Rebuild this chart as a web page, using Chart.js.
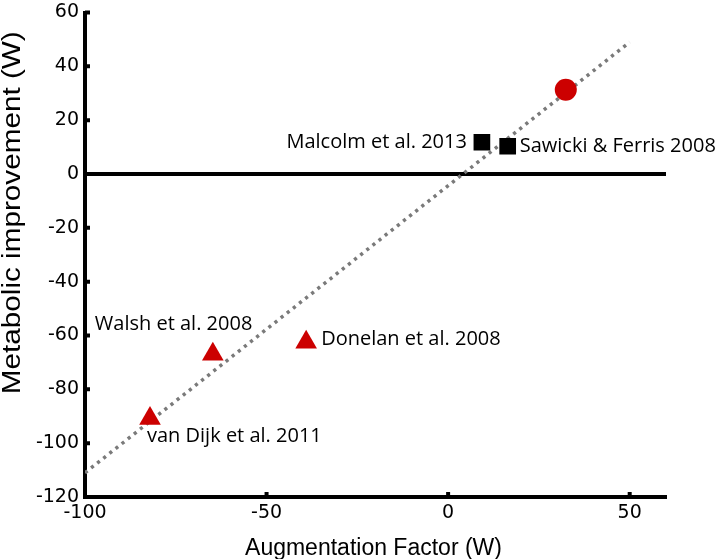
<!DOCTYPE html>
<html>
<head>
<meta charset="utf-8">
<script src="https://cdn.jsdelivr.net/npm/chart.js@4/dist/chart.umd.min.js"></script>
<style>
html,body{margin:0;padding:0;background:#fff;}
#wrap{width:721px;height:559px;position:relative;}
</style>
</head>
<body>
<div id="wrap"><canvas id="c" width="721" height="559"></canvas></div>
<script>
// ---- data ----
const xTicks = [-100, -50, 0, 50];
const yTicks = [-120, -100, -80, -60, -40, -20, 0, 20, 40, 60];
const xTitle = "Augmentation Factor (W)";
const yTitle = "Metabolic improvement (W)";

const circleX = [32.4];
const circleY = [31.3];

const squareNames = ["Malcolm et al. 2013", "Sawicki & Ferris 2008"];
const squareX = [9.3, 16.4];
const squareY = [11.8, 10.3];

const triangleNames = ["Walsh et al. 2008", "Donelan et al. 2008", "van Dijk et al. 2011"];
const triangleX = [-64.8, -39.1, -82.1];
const triangleY = [-67.0, -62.5, -90.8];

const fitX = [-100, 50];
const fitY = [-111, 49];

const zeroX = [-100, 60];
const zeroY = [0, 0];

// label placement (pixel offsets from the marker, and alignment)
const labelOffsets = {
  "Malcolm et al. 2013": {dx: -15, dy: 0, align: "right"},
  "Sawicki & Ferris 2008": {dx: 12, dy: 0, align: "left"},
  "Walsh et al. 2008": {dx: -118, dy: -30, align: "left"},
  "Donelan et al. 2008": {dx: 15, dy: -3, align: "left"},
  "van Dijk et al. 2011": {dx: -3, dy: 18, align: "left"}
};

const RED = "#CC0000";
const pts = (xs, ys) => xs.map((x, i) => ({x: x, y: ys[i]}));

const xTickFont = {family: "'DejaVu Sans', sans-serif", size: 19};
const yTickFont = {family: "'DejaVu Sans', sans-serif", size: 19, lineHeight: 0.6};

const customDraw = {
  id: "customDraw",
  afterDatasetsDraw(chart) {
    const ctx = chart.ctx;
    const xs = chart.scales.x, ys = chart.scales.y;
    const ca = chart.chartArea;
    ctx.save();
    // inward tick marks
    ctx.strokeStyle = "#000";
    ctx.lineWidth = 4;
    ctx.beginPath();
    xTicks.forEach(v => {
      const px = xs.getPixelForValue(v);
      ctx.moveTo(px, ca.bottom);
      ctx.lineTo(px, ca.bottom - 5);
    });
    yTicks.forEach(v => {
      const py = ys.getPixelForValue(v);
      ctx.moveTo(ca.left, py);
      ctx.lineTo(ca.left + 5, py);
    });
    ctx.stroke();

    // annotations
    ctx.fillStyle = "#000";
    ctx.font = "20px 'Open Sans', sans-serif";
    ctx.textBaseline = "middle";
    const addLabels = (names, X, Y) => {
      names.forEach((n, i) => {
        const o = labelOffsets[n];
        ctx.textAlign = o.align;
        ctx.fillText(n, xs.getPixelForValue(X[i]) + o.dx, ys.getPixelForValue(Y[i]) + o.dy);
      });
    };
    addLabels(squareNames, squareX, squareY);
    addLabels(triangleNames, triangleX, triangleY);

    // axis titles
    ctx.font = "23px 'Liberation Sans', Arial, sans-serif";
    ctx.textAlign = "center";
    ctx.textBaseline = "alphabetic";
    ctx.fillText(xTitle, (ca.left + ca.right) / 2 - 2, ca.bottom + 58);

    ctx.font = "25px 'Liberation Sans', Arial, sans-serif";
    const w = ctx.measureText(yTitle).width;
    ctx.translate(ca.left - 72, (ca.top + ca.bottom) / 2 - 42);
    ctx.rotate(-Math.PI / 2);
    ctx.scale(363 / w, 1);
    ctx.textBaseline = "middle";
    ctx.fillText(yTitle, 0, 0);
    ctx.restore();
  }
};

new Chart(document.getElementById("c"), {
  type: "scatter",
  data: {
    datasets: [
      {
        label: "zero",
        data: pts(zeroX, zeroY),
        showLine: true,
        borderColor: "#000",
        borderWidth: 4,
        pointRadius: 0,
        order: 5
      },
      {
        label: "fit",
        data: pts(fitX, fitY),
        showLine: true,
        borderColor: "#7a7a7a",
        borderWidth: 3.5,
        borderDash: [3.2, 4.6],
        pointRadius: 0,
        order: 4
      },
      {
        label: "squares",
        data: pts(squareX, squareY),
        pointStyle: "rect",
        pointRadius: 11.8,
        backgroundColor: "#000",
        borderColor: "#000",
        borderWidth: 0,
        order: 3
      },
      {
        label: "triangles",
        data: pts(triangleX, triangleY),
        pointStyle: "triangle",
        pointRadius: 12.5,
        backgroundColor: RED,
        borderColor: RED,
        borderWidth: 0,
        order: 2
      },
      {
        label: "circle",
        data: pts(circleX, circleY),
        pointStyle: "circle",
        pointRadius: 11,
        backgroundColor: RED,
        borderColor: RED,
        borderWidth: 0,
        order: 1
      }
    ]
  },
  options: {
    responsive: false,
    animation: false,
    events: [],
    layout: {padding: {top: 10, right: 55, left: 0, bottom: 0}},
    plugins: {legend: {display: false}, tooltip: {enabled: false}},
    scales: {
      x: {
        type: "linear",
        min: -100,
        max: 60,
        afterBuildTicks: s => { s.ticks = xTicks.map(v => ({value: v})); },
        afterFit: s => { s.height = 62; },
        grid: {display: false, drawTicks: false},
        border: {display: true, color: "#000", width: 4},
        ticks: {color: "#000", font: xTickFont, padding: 5, maxRotation: 0, autoSkip: false}
      },
      y: {
        type: "linear",
        min: -120,
        max: 60,
        afterBuildTicks: s => { s.ticks = yTicks.map(v => ({value: v})); },
        afterFit: s => { s.width = 85; },
        grid: {display: false, drawTicks: false},
        border: {display: true, color: "#000", width: 4},
        ticks: {color: "#000", font: yTickFont, padding: 6, autoSkip: false}
      }
    }
  },
  plugins: [customDraw]
});
</script>
</body>
</html>
